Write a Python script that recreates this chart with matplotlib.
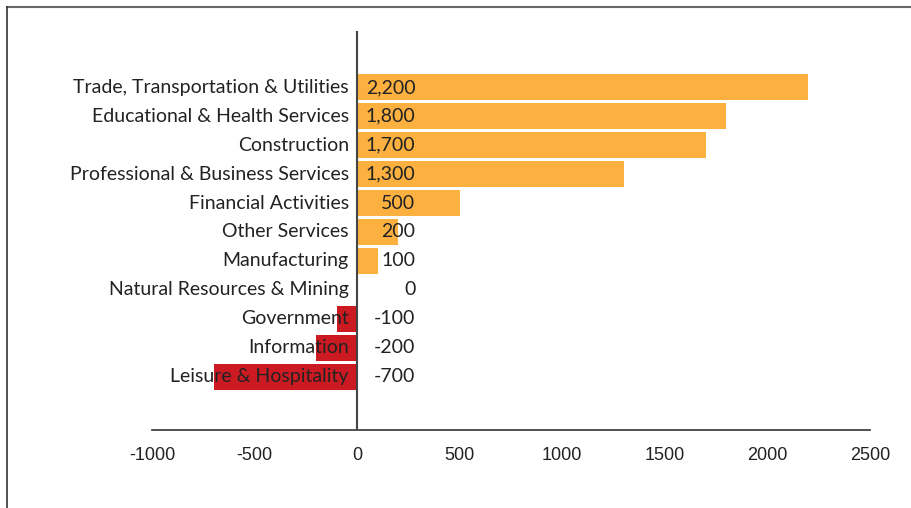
import matplotlib.pyplot as plt
import numpy as np
from matplotlib.lines import Line2D

plt.rcParams['axes.unicode_minus'] = False

categories = ['Trade, Transportation & Utilities', 'Educational & Health Services',
              'Construction', 'Professional & Business Services', 'Financial Activities',
              'Other Services', 'Manufacturing', 'Natural Resources & Mining',
              'Government', 'Information', 'Leisure & Hospitality']
values = [2200, 1800, 1700, 1300, 500, 200, 100, 0, -100, -200, -700]
value_labels = ['2,200', '1,800', '1,700', '1,300', '500', '200', '100', '0', '-100', '-200', '-700']
xticks = [-1000, -500, 0, 500, 1000, 1500, 2000, 2500]

orange = '#FBB040'
red = '#CC1A22'

fig = plt.figure(figsize=(9.11, 5.08), dpi=100)
ax = fig.add_axes([152/911, 1 - 430/508, (870-152)/911, (430-31)/508])

y = np.arange(len(categories))
colors = [orange if v >= 0 else red for v in values]
ax.barh(y, values, height=0.9, color=colors, zorder=1)

ax.set_xlim(-1000, 2500)
ax.set_ylim(len(categories) - 1 + 1.85, -1.95)

for s in ['top', 'right', 'left']:
    ax.spines[s].set_visible(False)
ax.spines['bottom'].set_color('#333333')
ax.spines['bottom'].set_linewidth(1.2)
ax.axvline(0, color='#444444', lw=1.5, zorder=3)

ax.set_yticks([])
ax.set_xticks(xticks)
ax.tick_params(axis='x', length=0, pad=12, labelsize=13, labelcolor='#222222')
for lab in ax.get_xticklabels():
    lab.set_family(['Liberation Sans Narrow', 'Liberation Sans', 'DejaVu Sans'])

for i, (c, lab) in enumerate(zip(categories, value_labels)):
    ax.annotate(c, xy=(0, i), xytext=(-6, 0), textcoords='offset points',
                ha='right', va='center', fontsize=14, color='#222222',
                family='Lato', zorder=4)
    ax.annotate(lab, xy=(0, i), xytext=(42, 0), textcoords='offset points',
                ha='right', va='center', fontsize=14, color='#222222',
                family='Lato', zorder=4)

# outer frame lines
fig.add_artist(Line2D([7/911, 1], [1 - 7/508, 1 - 7/508], transform=fig.transFigure,
                      color='#666666', lw=1.5))
fig.add_artist(Line2D([7/911, 7/911], [0, 1 - 7/508], transform=fig.transFigure,
                      color='#333333', lw=1.2))

fig.savefig('out.png', dpi=100)
